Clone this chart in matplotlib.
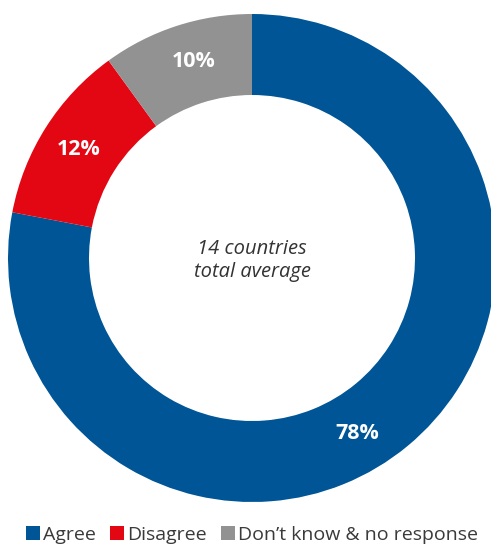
import numpy as np
import matplotlib
matplotlib.use('Agg')
import matplotlib.pyplot as plt
from matplotlib.patches import Patch

# data
categories = ['Agree', 'Disagree', 'Don\u2019t know & no response']
shares = [78, 12, 10]
center_text = '14 countries\ntotal average'

# style
colors = ['#005596', '#E30613', '#929292']
label_angles = [-59, 148, 106.5]   # degrees, where each % label sits
label_radius = 0.84
W, H = 491, 545
cx, cy, R = 252, 258, 244          # ring centre and outer radius in pixels

plt.rcParams['font.family'] = ['Open Sans', 'DejaVu Sans']

fig = plt.figure(figsize=(W / 100, H / 100), dpi=100)
ax = fig.add_axes([0, 0, 1, 1])

ax.pie(shares, colors=colors, startangle=90, counterclock=False,
       radius=1, wedgeprops=dict(width=1 - 163 / R, linewidth=0))

for val, ang in zip(shares, label_angles):
    a = np.radians(ang)
    ax.text(label_radius * np.cos(a), label_radius * np.sin(a), f'{val}%',
            ha='center', va='center', color='white', fontsize=15.5,
            fontweight='bold')

ax.text(0, -0.012, center_text, ha='center', va='center', fontsize=14.5,
        style='italic', color='#333333', linespacing=1.2)

ax.set_xlim(-cx / R, (W - cx) / R)
ax.set_ylim(-(H - cy) / R, cy / R)
ax.set_aspect('auto')
ax.axis('off')

handles = [Patch(facecolor=c, edgecolor='none') for c in colors]
leg = fig.legend(handles, categories, ncol=3, loc='center',
                 bbox_to_anchor=(252 / W, 1 - 535 / H), frameon=False,
                 fontsize=14, handlelength=0.72, handleheight=0.72,
                 handletextpad=0.18, columnspacing=0.7, borderpad=0)
for t in leg.get_texts():
    t.set_color('#3a3a3a')

fig.savefig('out.png', dpi=100)
